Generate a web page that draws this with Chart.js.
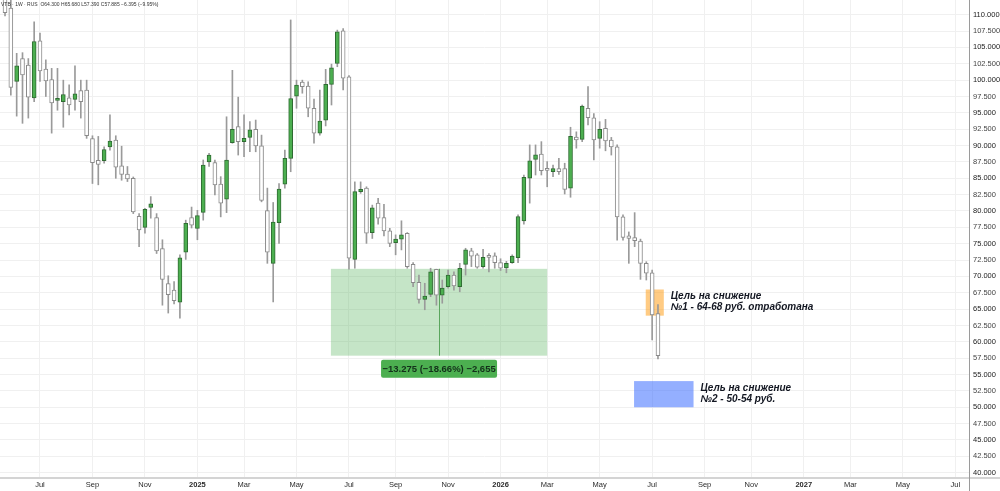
<!DOCTYPE html>
<html>
<head>
<meta charset="utf-8">
<script src="https://cdn.jsdelivr.net/npm/chart.js@4.4.1/dist/chart.umd.min.js"></script>
<style>
html, body { margin: 0; padding: 0; background: #fff; }
#wrap { width: 1000px; height: 491px; position: relative; }
</style>
</head>
<body>
<div id="wrap"><canvas id="vtbChart"></canvas></div>
<script>
"use strict";

// weekly candles, VTB 1W (index 0 = week of 20 May 2024)
const opens  = [113.0,111.0,99.8,103.3,102.3,97.3,106.0,101.7,100.1,96.9,96.7,97.3,97.05,98.4,98.5,91.05,87.75,87.7,89.8,90.85,86.9,85.65,85.0,79.2,77.5,80.55,79.0,74.25,68.9,67.9,66.05,73.7,79.0,77.35,79.8,87.5,87.4,84.1,81.8,90.45,92.9,90.6,91.25,92.5,89.95,80.05,72.0,78.2,84.1,88.05,97.55,99.7,99.1,95.7,91.9,93.9,99.35,102.55,107.55,100.5,72.6,82.95,83.5,76.7,81.2,79.0,76.95,75.15,75.7,76.6,71.85,69.1,66.5,67.25,71.1,67.15,68.45,70.2,68.45,71.85,73.9,73.3,71.5,73.15,73.15,72.1,71.3,72.1,72.85,78.5,85.0,87.9,88.7,86.3,86.0,86.5,86.5,83.5,91.3,90.95,95.7,94.25,91.1,92.65,90.85,89.8,79.1,76.2,75.95,75.4,72.0,70.55,64.3];
const highs  = [113.5,112.6,104.1,104.2,103.3,108.9,107.2,103.1,101.8,101.8,100.0,99.3,102.2,100.0,100.0,91.5,91.4,89.8,94.7,91.5,89.9,86.8,85.2,79.6,80.4,82.2,79.6,75.6,70.1,69.2,73.3,78.6,80.6,80.1,87.8,88.8,87.8,85.25,94.4,101.5,97.4,94.7,93.65,93.9,91.6,83.5,81.3,84.2,89.3,109.2,100.0,100.0,99.75,97.1,98.5,101.65,102.45,107.65,107.9,100.7,84.45,84.45,83.7,80.9,81.95,81.0,77.35,76.35,78.5,76.7,72.1,70.2,68.95,71.25,71.1,69.45,70.95,70.7,72.0,74.3,74.3,73.5,74.15,73.5,73.6,72.7,72.3,73.3,79.4,85.5,90.1,90.1,90.6,87.55,87.0,88.05,87.3,92.8,92.1,96.2,99.0,94.9,93.65,94.0,91.25,90.1,79.4,76.8,79.75,75.7,72.25,70.95,65.68];
const lows   = [109.8,97.7,94.5,93.4,94.2,96.7,99.8,97.5,91.9,95.4,92.8,94.7,95.4,94.2,91.1,84.2,84.0,87.3,89.3,85.0,84.7,84.5,79.6,74.55,76.6,78.9,73.5,65.6,64.4,65.8,63.6,72.6,77.4,75.6,78.6,86.8,82.45,79.1,79.75,90.35,88.55,88.3,89.05,89.05,81.4,72.0,66.1,75.05,83.5,86.0,95.7,98.0,94.4,90.35,91.6,93.0,96.2,102.05,98.5,71.1,71.25,82.7,75.05,75.8,78.0,76.2,74.55,73.3,74.05,71.25,68.45,65.9,64.9,66.9,65.6,65.9,68.2,67.9,67.65,70.2,71.5,71.25,71.25,70.7,71.25,70.9,70.55,72.0,72.1,78.0,81.2,85.5,85.5,83.7,85.25,85.6,82.6,82.1,89.6,90.6,93.15,87.8,89.6,89.2,88.55,75.55,75.55,72.0,74.55,69.55,69.45,60.3,57.39];
const closes = [110.3,98.9,102.2,100.8,97.4,105.9,101.4,99.9,96.5,97.1,97.8,96.2,97.9,96.7,91.5,87.4,87.1,89.4,90.7,86.7,85.6,84.9,79.85,77.1,80.25,81.1,73.9,69.55,67.2,66.3,72.85,78.1,77.85,79.3,87.0,88.55,84.0,81.2,87.8,92.5,90.6,91.1,92.4,89.95,81.6,73.7,78.3,83.35,88.05,97.2,99.25,99.0,95.7,91.9,93.75,99.35,101.9,107.4,100.3,72.8,82.95,83.3,76.6,80.5,78.9,76.95,75.05,75.7,76.35,71.5,69.05,66.5,67.0,70.7,67.15,68.2,70.2,68.55,71.25,74.05,73.1,71.4,72.9,72.9,72.1,71.25,72.0,73.1,79.15,85.15,87.65,88.6,86.15,86.2,86.5,86.0,83.3,91.4,90.85,96.05,94.25,90.85,92.5,90.7,89.8,79.1,75.95,75.8,75.45,72.0,70.5,64.1,57.885];

// x axis: week index of the first weekly candle in each labelled month
const xTickWeeks  = [6, 15, 24, 33, 41, 50, 59, 67, 76, 85, 93, 102, 111, 120, 128, 137, 145, 154, 163];
const xTickLabels = ['Jul', 'Sep', 'Nov', '2025', 'Mar', 'May', 'Jul', 'Sep', 'Nov', '2026', 'Mar', 'May', 'Jul', 'Sep', 'Nov', '2027', 'Mar', 'May', 'Jul'];
const yTicks = [];
for (let v = 40; v <= 110; v += 2.5) yTicks.push(v);

// drawings: [weekFrom, weekTo, priceLow, priceHigh]
const measureBox = [55.9, 93.0, 57.885, 71.16];
const measureText = '\u221213.275 (\u221218.66%) \u22122,655';
const target1 = [109.9, 113.0, 64, 68];
const target2 = [107.9, 118.1, 50, 54];
const target1Text = ['Цель на снижение', '№1 - 64-68 руб. отработана'];
const target2Text = ['Цель на снижение', '№2 - 50-54 руб.'];
const legendText = 'VTB \u00b7 1W \u00b7 RUS  O64.300 H65.680 L57.390 C57.885 \u22126.395 (\u22129.95%)';

const UP = '#4caf50';
const upBorder = '#2f6b32';
const downBorder = '#8a8a8a';

const isUp = opens.map((o, i) => closes[i] >= o);

const drawings = {
    id: 'drawings',
    beforeDatasetsDraw(chart) {
        const { ctx, scales: { x, y } } = chart;
        const rect = (b, fill) => {
            const x0 = x.getPixelForValue(b[0]), x1 = x.getPixelForValue(b[1]);
            const y0 = y.getPixelForValue(b[3]), y1 = y.getPixelForValue(b[2]);
            ctx.fillStyle = fill;
            ctx.fillRect(x0, y0, x1 - x0, y1 - y0);
        };
        ctx.save();
        rect(measureBox, 'rgba(76,175,80,0.32)');
        rect(target1, 'rgba(255,160,30,0.55)');
        rect(target2, 'rgba(60,110,255,0.55)');

        // vertical measure line
        const mx = Math.round(x.getPixelForValue((measureBox[0] + measureBox[1]) / 2)) + 0.5;
        ctx.strokeStyle = '#5aa65d';
        ctx.lineWidth = 1;
        ctx.beginPath();
        ctx.moveTo(mx, y.getPixelForValue(measureBox[3]));
        ctx.lineTo(mx, y.getPixelForValue(measureBox[2]));
        ctx.stroke();
        ctx.restore();
    },
    afterDatasetsDraw(chart) {
        const { ctx, scales: { x, y } } = chart;
        ctx.save();

        // measure label
        const mx = x.getPixelForValue((measureBox[0] + measureBox[1]) / 2);
        const top = y.getPixelForValue(measureBox[2]) + 4;
        ctx.font = '600 9.5px "Liberation Sans", Arial, sans-serif';
        const w = 116;
        ctx.fillStyle = '#4caf50';
        ctx.beginPath();
        ctx.roundRect(mx - w / 2, top, w, 18, 2);
        ctx.fill();
        ctx.fillStyle = '#13301a';
        ctx.textAlign = 'center';
        ctx.textBaseline = 'middle';
        ctx.fillText(measureText, mx, top + 9.5);

        // target notes
        ctx.textAlign = 'left';
        ctx.fillStyle = '#131722';
        ctx.font = 'italic bold 10px "Liberation Sans", Arial, sans-serif';
        [[target1, target1Text], [target2, target2Text]].forEach(([b, lines]) => {
            const tx = x.getPixelForValue(b[1]) + 7;
            const ty = y.getPixelForValue(b[3]) + 7;
            lines.forEach((t, k) => ctx.fillText(t, tx, ty + k * 11));
        });

        // legend line top-left
        ctx.font = '5px "Liberation Sans", Arial, sans-serif';
        ctx.fillStyle = '#333';
        ctx.fillText(legendText, 1, 5);

        // axis frame lines
        const ca = chart.chartArea;
        ctx.strokeStyle = '#d4d4d4';
        ctx.lineWidth = 2;
        ctx.beginPath();
        ctx.moveTo(0, ca.bottom + 1);
        ctx.lineTo(chart.width, ca.bottom + 1);
        ctx.stroke();
        ctx.strokeStyle = '#9a9a9a';
        ctx.lineWidth = 1;
        ctx.beginPath();
        ctx.moveTo(ca.right + 0.5, 0);
        ctx.lineTo(ca.right + 0.5, chart.height);
        ctx.stroke();
        ctx.restore();
    }
};

new Chart(document.getElementById('vtbChart'), {
    type: 'bar',
    data: {
        datasets: [
            {
                label: 'wicks',
                data: opens.map((o, i) => ({ x: i, y: [lows[i], highs[i]] })),
                backgroundColor: '#9a9a9a',
                borderWidth: 0,
                barThickness: 1,
                grouped: false,
                order: 2
            },
            {
                label: 'bodies',
                data: opens.map((o, i) => ({ x: i, y: [o, closes[i]] })),
                backgroundColor: isUp.map(u => u ? UP : '#ffffff'),
                borderColor: isUp.map(u => u ? upBorder : downBorder),
                borderWidth: 1,
                borderSkipped: false,
                barThickness: 4,
                minBarLength: 2,
                grouped: false,
                order: 1
            }
        ]
    },
    options: {
        responsive: true,
        maintainAspectRatio: false,
        animation: false,
        layout: { padding: 0 },
        plugins: {
            legend: { display: false },
            tooltip: { enabled: false }
        },
        scales: {
            x: {
                type: 'linear',
                min: -0.86,
                max: 165.35,
                offset: false,
                afterBuildTicks: scale => { scale.ticks = xTickWeeks.map(v => ({ value: v })); },
                afterFit: scale => {
                    scale.height = 14;
                    scale.paddingLeft = 0;
                    scale.paddingRight = 0;
                },
                grid: { color: '#f0f0f0', drawTicks: false, offset: false },
                border: { display: false },
                ticks: {
                    autoSkip: false,
                    maxRotation: 0,
                    padding: 3,
                    color: '#2a2a2a',
                    font: ctx => ({
                        family: '"Liberation Sans", Arial, sans-serif',
                        size: 7.5,
                        weight: /^\d{4}$/.test(xTickLabels[ctx.index] || '') ? 'bold' : 'normal'
                    }),
                    callback: (value, index) => xTickLabels[index]
                }
            },
            y: {
                type: 'linear',
                position: 'right',
                min: 39.34,
                max: 112.25,
                afterBuildTicks: scale => { scale.ticks = yTicks.map(v => ({ value: v })); },
                afterFit: scale => {
                    scale.width = 31;
                    scale.paddingTop = 0;
                    scale.paddingBottom = 0;
                },
                grid: { color: '#f0f0f0', drawTicks: false },
                border: { display: false },
                ticks: {
                    padding: 4,
                    color: ctx => (ctx.tick && ctx.tick.value % 5 === 0) ? '#1a1a1a' : '#444',
                    font: { family: '"Liberation Sans", Arial, sans-serif', size: 7.5 },
                    callback: value => value.toFixed(3)
                }
            }
        }
    },
    plugins: [drawings]
});
</script>
</body>
</html>
